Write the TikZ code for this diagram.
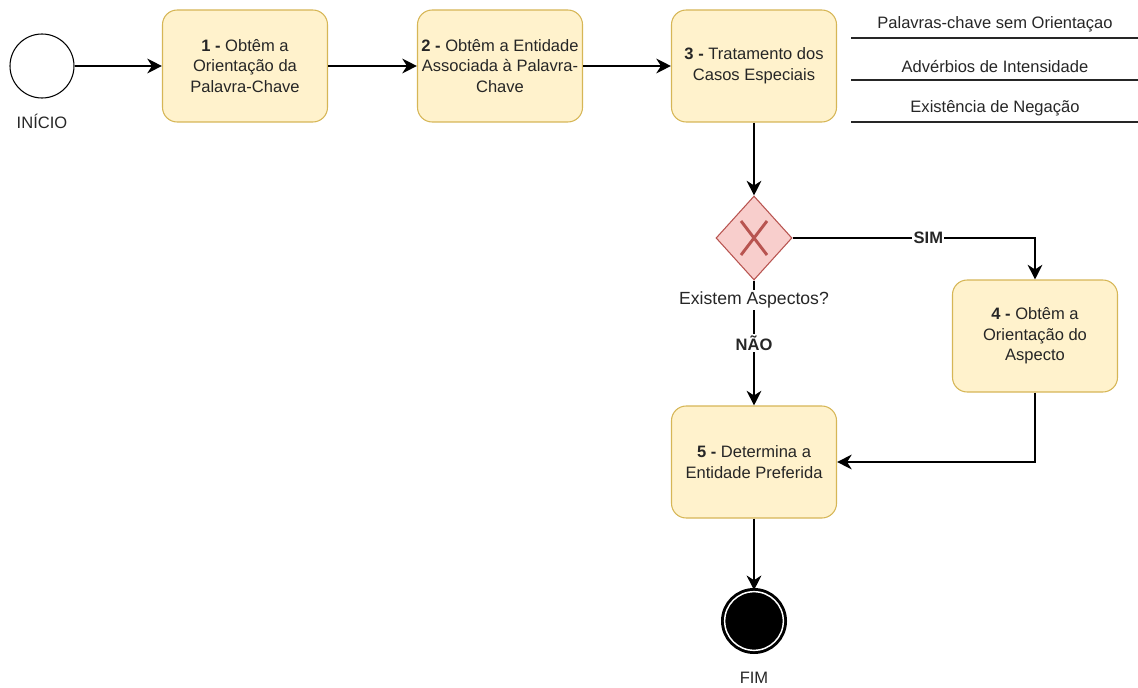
\documentclass[tikz,border=0pt]{standalone}
\usepackage{fontspec}
\setmainfont{Liberation Sans}
\usepackage{xcolor}
\usepackage{tikz}
\usetikzlibrary{positioning}
\usetikzlibrary{arrows.meta,shapes.geometric}
\definecolor{boxfill}{HTML}{FFF2CC}
\definecolor{boxline}{HTML}{D6B656}
\definecolor{gatefill}{HTML}{F8CECC}
\definecolor{gateline}{HTML}{B85450}
\definecolor{txtgray}{HTML}{262626}
\tikzstyle{taskbox}=[rectangle,rounded corners=11pt,fill=boxfill,draw=boxline,line width=0.8pt,minimum width=123.75pt,minimum height=84pt,inner sep=2pt,align=center,text=txtgray,font=\fontsize{12.4pt}{15.5pt}\selectfont]
\tikzstyle{gateway}=[diamond,fill=gatefill,draw=gateline,line width=0.8pt,minimum width=57pt,minimum height=63pt,inner sep=0pt]
\tikzstyle{xmark}=[draw=gateline,line width=2.2pt]
\tikzstyle{startev}=[circle,draw=black,fill=white,line width=0.8pt,minimum size=48pt,inner sep=0pt]
\tikzstyle{endev}=[circle,fill=black,draw=black,line width=2.2pt,double=white,double distance=1.1pt,minimum size=44pt,inner sep=0pt]
\tikzstyle{flow}=[draw,line width=1.5pt,-{Stealth[length=11pt,width=11pt,inset=3.5pt]}]
\tikzstyle{flowlabel}=[fill=white,inner sep=1pt,text=txtgray,font=\fontsize{12.4pt}{15pt}\selectfont\bfseries]
\tikzstyle{evlabel}=[text=txtgray,font=\fontsize{12.4pt}{15pt}\selectfont]
\tikzset{caselabel/.style={text=txtgray,font=\fontsize{12.4pt}{15pt}\selectfont}}

\begin{document}
\begin{tikzpicture}[x=0.75pt,y=-0.75pt]
    \useasboundingbox (0,0) rectangle (1138,688);
    % events
    \node[startev] (inicio) at (42,66) {};
    \node[evlabel] (inicioL) at (42,121) {INÍCIO};
    \node[endev] (fim) at (754,621) {};
    \node[evlabel] (fimL) at (754,678) {FIM};

    % tasks
    \foreach \pos/\name/\txt in {{(245,66)/orient/\textbf{1 -} Obtêm a\\Orientação da\\Palavra-Chave},
    {(500,66)/entid/\textbf{2 -} Obtêm a Entidade\\Associada à Palavra-\\Chave},
    {(754,66)/trat/\textbf{3 -} Tratamento dos\\Casos Especiais},
    {(1035,336)/aspec/\textbf{4 -} Obtêm a\\Orientação do\\Aspecto},
    {(754,462)/prefer/\textbf{5 -} Determina a\\Entidade Preferida}}
        \node[taskbox] (\name) at \pos {\txt};

    % special cases of step 3
    \foreach \y/\name/\txt in {24/semor/Palavras-chave sem Orientaçao,
    66/adverb/Advérbios de Intensidade, 108/negac/Existência de Negação}{
        \node[caselabel] (\name) at (995,\y) {\txt};
        \draw[line width=0.8pt,txtgray] (851,\y+14) -- (1138,\y+14);
    }

    % gateway
    \node[gateway] (gw) at (754,238) {};
    \draw[xmark] ([shift={(-13,-17)}]gw.center) -- ([shift={(13,17)}]gw.center);
    \draw[xmark] ([shift={(-13,17)}]gw.center) -- ([shift={(13,-17)}]gw.center);

    % flows
    \foreach \source/\dest in {inicio/orient, orient/entid, entid/trat, trat/gw, prefer/fim}
        \path[flow] (\source) -- (\dest);
    \path[flow] (gw) -- node[flowlabel] {NÃO} (prefer);
    \path[flow] (gw.east) -| node[flowlabel,pos=0.28] {SIM} (aspec);
    \path[flow] (aspec) |- (prefer);

    \node[fill=white,inner sep=1pt,text=txtgray,font=\fontsize{13.2pt}{16pt}\selectfont] (pergunta) at (754,300) {Existem Aspectos?};
\end{tikzpicture}
\end{document}
